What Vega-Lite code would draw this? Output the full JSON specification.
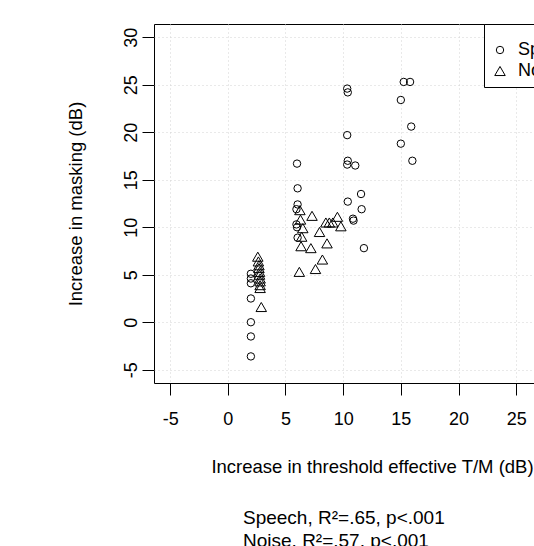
{
  "$schema": "https://vega.github.io/schema/vega-lite/v6.json",
  "autosize": {"type": "none"},
  "padding": {"left": 154, "top": 24, "right": -56, "bottom": 163},
  "width": 436,
  "height": 359,
  "background": "white",
  "title": {
    "text": ["Speech, R²=.65, p<.001", "Noise, R²=.57, p<.001"],
    "orient": "bottom",
    "anchor": "start",
    "frame": "group",
    "align": "left",
    "dx": 89,
    "offset": 33,
    "fontSize": 19,
    "font": "Liberation Sans",
    "fontWeight": "normal",
    "color": "black",
    "lineHeight": 23,
    "baseline": "top"
  },
  "data": {
    "values": [
      {"x": 2.0, "y": 5.1, "type": "Speech"},
      {"x": 2.0, "y": 4.6, "type": "Speech"},
      {"x": 2.0, "y": 4.1, "type": "Speech"},
      {"x": 2.0, "y": 2.5, "type": "Speech"},
      {"x": 2.0, "y": 0.0, "type": "Speech"},
      {"x": 2.0, "y": -1.5, "type": "Speech"},
      {"x": 2.0, "y": -3.6, "type": "Speech"},
      {"x": 6.0, "y": 16.7, "type": "Speech"},
      {"x": 6.05, "y": 14.1, "type": "Speech"},
      {"x": 6.05, "y": 12.4, "type": "Speech"},
      {"x": 5.95, "y": 11.9, "type": "Speech"},
      {"x": 5.95, "y": 10.3, "type": "Speech"},
      {"x": 6.0, "y": 10.0, "type": "Speech"},
      {"x": 6.05, "y": 8.9, "type": "Speech"},
      {"x": 10.35, "y": 24.6, "type": "Speech"},
      {"x": 10.4, "y": 24.2, "type": "Speech"},
      {"x": 10.35, "y": 19.7, "type": "Speech"},
      {"x": 10.4, "y": 17.0, "type": "Speech"},
      {"x": 10.35, "y": 16.6, "type": "Speech"},
      {"x": 11.05, "y": 16.5, "type": "Speech"},
      {"x": 10.4, "y": 12.7, "type": "Speech"},
      {"x": 11.55, "y": 13.5, "type": "Speech"},
      {"x": 11.6, "y": 11.9, "type": "Speech"},
      {"x": 10.85, "y": 10.9, "type": "Speech"},
      {"x": 10.9, "y": 10.7, "type": "Speech"},
      {"x": 11.8, "y": 7.8, "type": "Speech"},
      {"x": 15.25, "y": 25.3, "type": "Speech"},
      {"x": 15.8, "y": 25.3, "type": "Speech"},
      {"x": 15.0, "y": 23.4, "type": "Speech"},
      {"x": 15.9, "y": 20.6, "type": "Speech"},
      {"x": 15.0, "y": 18.8, "type": "Speech"},
      {"x": 16.0, "y": 17.0, "type": "Speech"},
      {"x": 2.6, "y": 6.9, "type": "Noise"},
      {"x": 2.65, "y": 6.4, "type": "Noise"},
      {"x": 2.7, "y": 6.0, "type": "Noise"},
      {"x": 2.7, "y": 5.7, "type": "Noise"},
      {"x": 2.75, "y": 5.3, "type": "Noise"},
      {"x": 2.75, "y": 5.0, "type": "Noise"},
      {"x": 2.8, "y": 4.6, "type": "Noise"},
      {"x": 2.8, "y": 4.3, "type": "Noise"},
      {"x": 2.8, "y": 3.9, "type": "Noise"},
      {"x": 2.8, "y": 3.6, "type": "Noise"},
      {"x": 2.9, "y": 1.6, "type": "Noise"},
      {"x": 6.25, "y": 11.8, "type": "Noise"},
      {"x": 6.3, "y": 10.8, "type": "Noise"},
      {"x": 6.5, "y": 9.9, "type": "Noise"},
      {"x": 6.4, "y": 9.0, "type": "Noise"},
      {"x": 6.35, "y": 8.0, "type": "Noise"},
      {"x": 7.3, "y": 11.2, "type": "Noise"},
      {"x": 7.2, "y": 7.8, "type": "Noise"},
      {"x": 6.2, "y": 5.3, "type": "Noise"},
      {"x": 7.6, "y": 5.6, "type": "Noise"},
      {"x": 8.2, "y": 6.6, "type": "Noise"},
      {"x": 7.95, "y": 9.5, "type": "Noise"},
      {"x": 8.6, "y": 8.3, "type": "Noise"},
      {"x": 8.5, "y": 10.5, "type": "Noise"},
      {"x": 8.8, "y": 10.5, "type": "Noise"},
      {"x": 9.1, "y": 10.5, "type": "Noise"},
      {"x": 9.5, "y": 11.1, "type": "Noise"},
      {"x": 9.8, "y": 10.1, "type": "Noise"}
    ]
  },
  "mark": {"type": "point", "filled": false, "stroke": "black", "strokeWidth": 1, "opacity": 1},
  "encoding": {
    "x": {
      "field": "x",
      "type": "quantitative",
      "scale": {"domain": [-6.4, 31.4], "nice": false, "zero": false},
      "axis": {
        "values": [-5, 0, 5, 10, 15, 20, 25, 30],
        "labelExpr": "'' + datum.value",
        "title": "Increase in threshold effective T/M (dB)",
        "domain": false,
        "tickSize": 12,
        "tickColor": "black",
        "labelFontSize": 18,
        "labelFont": "Liberation Sans",
        "labelColor": "black",
        "labelPadding": 15,
        "labelBaseline": "top",
        "labelFlush": false,
        "labelOverlap": false,
        "titleFontSize": 18.5,
        "titleFont": "Liberation Sans",
        "titleFontWeight": "normal",
        "titleColor": "black",
        "titleY": 89,
        "titleBaseline": "alphabetic",
        "grid": true,
        "gridColor": "#d3d3d3",
        "gridDash": [1, 3],
        "gridWidth": 1
      }
    },
    "y": {
      "field": "y",
      "type": "quantitative",
      "scale": {"domain": [-6.4, 31.4], "nice": false, "zero": false},
      "axis": {
        "values": [-5, 0, 5, 10, 15, 20, 25, 30],
        "labelExpr": "'' + datum.value",
        "title": "Increase in masking (dB)",
        "domain": false,
        "tickSize": 12,
        "tickColor": "black",
        "labelFontSize": 18,
        "labelFont": "Liberation Sans",
        "labelColor": "black",
        "labelAngle": 270,
        "labelAlign": "center",
        "labelBaseline": "middle",
        "labelPadding": 10.5,
        "labelFlush": false,
        "labelOverlap": false,
        "titleFontSize": 18.5,
        "titleFont": "Liberation Sans",
        "titleFontWeight": "normal",
        "titleColor": "black",
        "titleAngle": -90,
        "titleX": -73,
        "titleY": 179.5,
        "titleAlign": "center",
        "titleBaseline": "alphabetic",
        "grid": true,
        "gridColor": "#d3d3d3",
        "gridDash": [1, 3],
        "gridWidth": 1
      }
    },
    "shape": {
      "field": "type",
      "type": "nominal",
      "scale": {"domain": ["Speech", "Noise"], "range": ["circle", "triangle-up"]},
      "legend": {
        "title": " ",
        "titleFontSize": 6,
        "titlePadding": 4,
        "orient": "none",
        "legendX": 330,
        "legendY": 0,
        "strokeColor": "black",
        "fillColor": "white",
        "padding": 7,
        "labelFontSize": 18,
        "labelFont": "Liberation Sans",
        "labelColor": "black",
        "labelOffset": 9,
        "rowPadding": 3,
        "symbolStrokeColor": "black",
        "symbolStrokeWidth": 1,
        "symbolFillColor": "transparent"
      }
    },
    "size": {
      "field": "type",
      "type": "nominal",
      "scale": {"domain": ["Speech", "Noise"], "range": [55, 110]},
      "legend": {
        "title": " ",
        "titleFontSize": 6,
        "titlePadding": 4,
        "orient": "none",
        "legendX": 330,
        "legendY": 0,
        "strokeColor": "black",
        "fillColor": "white",
        "padding": 7,
        "labelFontSize": 18,
        "labelFont": "Liberation Sans",
        "labelColor": "black",
        "labelOffset": 9,
        "rowPadding": 3,
        "symbolStrokeColor": "black",
        "symbolStrokeWidth": 1,
        "symbolFillColor": "transparent"
      }
    }
  },
  "config": {
    "view": {"stroke": "black", "strokeWidth": 1}
  }
}
